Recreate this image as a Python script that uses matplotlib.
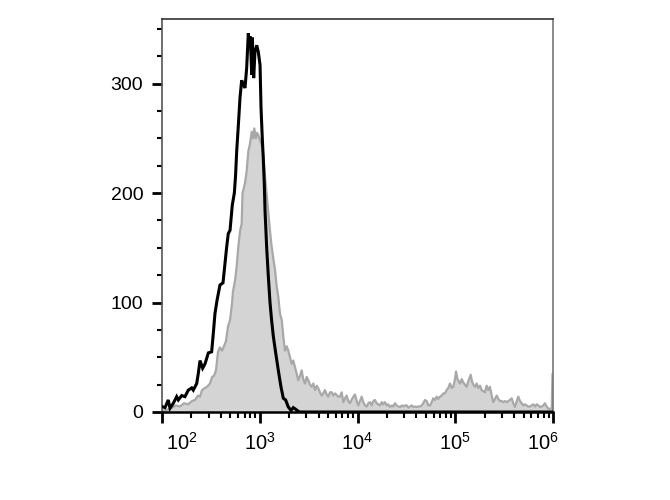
import numpy as np
import matplotlib
matplotlib.use("Agg")
import matplotlib.pyplot as plt
import matplotlib.transforms as mtransforms

plt.rcParams['font.family'] = ['Liberation Sans', 'DejaVu Sans']
plt.rcParams['mathtext.fontset'] = 'custom'
plt.rcParams['mathtext.rm'] = 'Liberation Sans'
plt.rcParams['mathtext.it'] = 'Liberation Sans'

# Control (unstained) histogram: log10 intensity, count
ctrl_log = [2.000, 2.031, 2.064, 2.082, 2.116, 2.150, 2.167, 2.202, 2.235, 2.269,
            2.304, 2.320, 2.355, 2.371, 2.389, 2.416, 2.440, 2.474, 2.508, 2.525,
            2.542, 2.563, 2.593, 2.624, 2.662, 2.678, 2.696, 2.719, 2.740, 2.752,
            2.764, 2.781, 2.798, 2.815, 2.832, 2.849, 2.866, 2.883, 2.893, 2.903,
            2.918, 2.924, 2.938, 2.951, 2.969, 2.985, 3.003, 3.013, 3.026, 3.036,
            3.047, 3.054, 3.071, 3.087, 3.105, 3.120, 3.139, 3.163, 3.190, 3.217,
            3.241, 3.265, 3.292, 3.320, 3.343, 3.368, 3.388, 3.412, 6.000]
ctrl_cnt = [5, 4, 11, 3.4, 8, 14, 11, 15, 14, 20,
            22, 20, 26, 35, 47, 40, 44, 54, 55, 72,
            90, 102, 116, 118, 151, 163, 166, 189, 200, 215,
            238, 262, 287, 303, 299, 296, 314, 346, 335, 343,
            308, 342, 305, 329, 335, 329, 317, 278, 250, 232,
            207, 184, 150, 125, 100, 85, 69, 54, 38, 23,
            12.5, 11, 4.6, 1.5, 4, 2.5, 1, 0, 0]

# Stained sample histogram: log10 intensity, count
stain_log = [2.000, 2.051, 2.102, 2.143, 2.184, 2.225, 2.266, 2.307, 2.338, 2.368,
             2.389, 2.409, 2.440, 2.460, 2.491, 2.512, 2.532, 2.552, 2.573, 2.593,
             2.614, 2.634, 2.655, 2.675, 2.696, 2.716, 2.726, 2.747, 2.764, 2.781,
             2.798, 2.815, 2.824, 2.849, 2.866, 2.883, 2.900, 2.918, 2.931, 2.944,
             2.959, 2.972, 2.985, 3.003, 3.020, 3.036, 3.054, 3.069, 3.087, 3.105,
             3.122, 3.139, 3.156, 3.173, 3.190, 3.207, 3.225, 3.241, 3.258, 3.276,
             3.292, 3.309, 3.327, 3.343, 3.361, 3.378, 3.394, 3.412, 3.429, 3.445,
             3.463, 3.480, 3.497, 3.514, 3.531, 3.548, 3.565, 3.583, 3.599, 3.616,
             3.634, 3.650, 3.667, 3.685, 3.701, 3.719, 3.736, 3.752, 3.770, 3.804,
             3.821, 3.838, 3.855, 3.872, 3.889, 3.906, 3.923, 3.944, 3.974, 3.992,
             4.008, 4.026, 4.043, 4.059, 4.077, 4.094, 4.110, 4.128, 4.145, 4.162,
             4.179, 4.196, 4.213, 4.230, 4.248, 4.264, 4.281, 4.299, 4.315, 4.332,
             4.353, 4.366, 4.384, 4.401, 4.417, 4.435, 4.455, 4.469, 4.486, 4.503,
             4.520, 4.537, 4.554, 4.571, 4.588, 4.606, 4.622, 4.639, 4.657, 4.673,
             4.690, 4.708, 4.724, 4.742, 4.759, 4.775, 4.793, 4.810, 4.827, 4.844,
             4.861, 4.878, 4.895, 4.912, 4.929, 4.946, 4.964, 4.980, 4.997, 5.008,
             5.023, 5.049, 5.066, 5.082, 5.100, 5.117, 5.133, 5.158, 5.171, 5.185,
             5.202, 5.219, 5.236, 5.253, 5.270, 5.287, 5.304, 5.321, 5.338, 5.355,
             5.373, 5.389, 5.407, 5.424, 5.440, 5.458, 5.475, 5.491, 5.509, 5.526,
             5.543, 5.560, 5.577, 5.594, 5.611, 5.629, 5.645, 5.662, 5.680, 5.696,
             5.714, 5.731, 5.747, 5.765, 5.782, 5.798, 5.816, 5.833, 5.850, 5.867,
             5.884, 5.901, 5.918, 5.935, 5.952, 5.969, 5.987, 5.995, 6.000]
stain_cnt = [1, 2, 4, 6, 5, 8, 7, 10, 11, 15,
             14, 20, 22, 23, 26, 32, 33, 38, 55, 59,
             56, 60, 65, 78, 84, 99, 110, 120, 133, 151,
             165, 172, 200, 209, 220, 238, 245, 256, 250, 259,
             250, 255, 253, 248, 244, 235, 215, 200, 181, 165,
             151, 140, 130, 115, 105, 90, 84, 69, 56, 60,
             56, 50, 44, 47, 41, 35, 29, 33, 38, 30,
             26, 32, 29, 25, 23, 26, 20, 24, 21.6, 18,
             15, 17, 20, 16, 14, 18, 18, 15, 17, 14,
             14, 18, 9, 12.5, 15, 10, 8, 12, 16, 10,
             6, 10, 14, 9, 6, 5, 8, 9, 6, 10,
             11, 8, 7, 6, 9, 7, 9, 6, 7, 4.6,
             6, 5, 8, 6, 5, 4.6, 6, 5, 6, 6,
             4, 5, 6, 4.6, 5, 4.6, 5, 5, 6, 8,
             11, 10, 6, 6, 9, 12.5, 11, 14, 12, 14,
             15, 17, 17, 20, 22, 26, 22, 23, 30, 37,
             30, 26, 30, 27, 25, 23, 28, 34, 28, 25,
             23, 26, 22, 24, 20, 19, 18, 24, 20, 23,
             15, 9, 12, 15, 12, 10, 10, 9, 10, 9,
             10, 11, 12.5, 8, 4.6, 10, 14, 10, 8, 6,
             7, 6, 5, 5, 6, 7, 5, 7, 6, 4.6,
             5, 6, 8, 5, 3, 3, 3, 35, 35]

y_major = [0, 100, 200, 300]
x_major_exp = [2, 3, 4, 5, 6]

fig = plt.figure(figsize=(6.7, 5.0), dpi=100)
ax = fig.add_axes([162/670, 1 - 412/500, (553-162)/670, (412-19)/500])

xs = 10 ** np.array(stain_log)
ax.fill_between(xs, 0, stain_cnt, color='#d4d4d4', linewidth=0, zorder=1)
ax.plot(xs, stain_cnt, color='#a8a8a8', lw=1.6, zorder=2)
ax.plot(10 ** np.array(ctrl_log), ctrl_cnt, color='black', lw=2.2, zorder=3,
        solid_joinstyle='miter')

ax.set_xscale('log')
ax.set_xlim(1e2, 1e6)
ax.set_ylim(0, 359)

ax.set_yticks(y_major)
ax.set_yticklabels([str(v) for v in y_major])
ax.set_yticks(np.arange(25, 359, 25), minor=True)
ax.yaxis.set_minor_formatter(matplotlib.ticker.NullFormatter())

ax.set_xticks([10.0 ** e for e in x_major_exp])
ax.set_xticklabels([r'$10^{%d}$' % e for e in x_major_exp])
minors = [m * 10.0 ** e for e in x_major_exp[:-1] for m in range(2, 10)]
ax.set_xticks(minors, minor=True)
ax.xaxis.set_minor_formatter(matplotlib.ticker.NullFormatter())

ax.tick_params(axis='y', which='major', direction='out', length=7.5, width=2.0,
               labelsize=14, pad=6, color='black')
ax.tick_params(axis='y', which='minor', direction='out', length=3.5, width=1.5, color='black')
ax.tick_params(axis='x', which='major', direction='out', length=8, width=2.0,
               labelsize=14.5, pad=6.5, color='black')
ax.tick_params(axis='x', which='minor', direction='out', length=4, width=1.5, color='black')

ax.spines['top'].set_color('#333333')
ax.spines['right'].set_color('#777777')
ax.spines['left'].set_color('#555555')
ax.spines['bottom'].set_color('black')
for s in ax.spines.values():
    s.set_linewidth(1.2)
ax.spines['bottom'].set_linewidth(1.8)

# shift edge labels inward as in the reference
labels = ax.get_xticklabels()
labels[0].set_transform(labels[0].get_transform() +
                        mtransforms.ScaledTranslation(20/100, 0, fig.dpi_scale_trans))
labels[-1].set_transform(labels[-1].get_transform() +
                         mtransforms.ScaledTranslation(-10/100, 0, fig.dpi_scale_trans))

fig.savefig('out.png', dpi=100)
